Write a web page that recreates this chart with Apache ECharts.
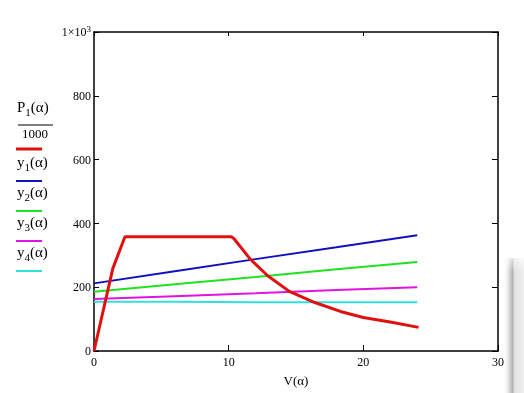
<!DOCTYPE html>
<html>
<head>
<meta charset="utf-8">
<script src="https://cdn.jsdelivr.net/npm/echarts@6/dist/echarts.min.js"></script>
<style>html,body{margin:0;padding:0;background:#fff}#c{width:524px;height:393px}</style>
</head>
<body>
<div id="c"></div>
<script>
// ---- data ----
var pX = [0, 1.4, 2.3, 10.2, 10.4, 11.6, 12.9, 14.5, 16.4, 18.3, 20.0, 22.1, 24.1];
var pY = [0, 259, 358, 358, 352, 288, 236, 187, 152, 124, 105, 90, 74];
var lineX = [0, 6, 12, 18, 24];
var y1 = [212, 250, 288, 325, 363];
var y2 = [186, 209, 232, 256, 279];
var y3 = [163, 172, 181, 191, 200];
var y4 = [154, 154, 153, 153, 153];
var xTicks = [0, 10, 20, 30];
var yTicks = [0, 200, 400, 600, 800, 1000];
var xTitle = 'V(α)';

function pairs(xs, ys){ return xs.map(function(x,i){ return [x, ys[i]]; }); }

var FONT = 'Liberation Serif';
var chart = echarts.init(document.getElementById('c'), null, {renderer:'canvas'});

var richLegend = {
  n:{fontFamily:FONT, fontSize:15, lineHeight:18, fill:'#000', verticalAlign:'top'},
  s:{fontFamily:FONT, fontSize:11, lineHeight:11, fill:'#000', verticalAlign:'bottom'}
};
function legendLabel(sub){
  return { type:'text', style:{ text:'{n|y}{s|' + sub + '}{n|(α)}', rich:richLegend } };
}

var legendColors = ['#1010c0', '#22e022', '#e014e0', '#30e0e0'];
var graphics = [];
// P1 label
graphics.push({type:'text', left:17, top:101, style:{ text:'{n|P}{s|1}{n|(α)}', rich:richLegend }});
graphics.push({type:'line', shape:{x1:18, y1:125, x2:53, y2:125}, style:{stroke:'#000', lineWidth:1}});
graphics.push({type:'text', left:22, top:128, style:{text:'1000', fontFamily:FONT, fontSize:13, fill:'#000'}});
graphics.push({type:'line', shape:{x1:16, y1:149, x2:42, y2:149}, style:{stroke:'#e01010', lineWidth:3}});
var legTops = [156, 186, 216, 246];
var lineYs = [181, 211, 241, 271];
for (var i=0;i<4;i++){
  var t = legendLabel(String(i+1));
  t.left = 17; t.top = legTops[i];
  graphics.push(t);
  graphics.push({type:'line', shape:{x1:16, y1:lineYs[i], x2:42, y2:lineYs[i]}, style:{stroke:legendColors[i], lineWidth:2}});
}
// window edge shadow
graphics.push({type:'rect', shape:{x:503, y:258, width:21, height:135}, silent:true, style:{
  fill:new echarts.graphic.LinearGradient(0,0,1,0,[
    {offset:0, color:'rgba(255,255,255,0)'},
    {offset:0.3, color:'rgba(200,200,200,0.7)'},
    {offset:0.45, color:'rgba(175,175,175,1)'},
    {offset:0.55, color:'rgba(225,225,225,1)'},
    {offset:1, color:'rgba(240,240,240,1)'}
  ])}, z:-1});
graphics.push({type:'rect', shape:{x:503, y:250, width:21, height:22}, silent:true, style:{
  fill:new echarts.graphic.LinearGradient(0,0,0,1,[
    {offset:0, color:'rgba(255,255,255,1)'},
    {offset:1, color:'rgba(255,255,255,0)'}
  ])}, z:0});

var axisLineStyle = {color:'#000', width:1.5};
var option = {
  animation:false,
  backgroundColor:'#fff',
  grid:{left:94, top:32, right:26, bottom:40, containLabel:false},
  xAxis:[{
    type:'value', min:xTicks[0], max:xTicks[xTicks.length-1], interval:10,
    name:xTitle, nameLocation:'middle', nameGap:24,
    nameTextStyle:{fontFamily:FONT, fontSize:13, color:'#000'},
    axisLine:{show:true, onZero:false, lineStyle:axisLineStyle},
    axisTick:{show:true, inside:true, length:6, lineStyle:{color:'#000', width:1}},
    axisLabel:{fontFamily:FONT, fontSize:12, color:'#000', margin:6, showMinLabel:true, showMaxLabel:true,
      formatter:function(v){return String(v);}},
    splitLine:{show:false}
  },{
    type:'value', position:'top', min:0, max:30, interval:10,
    axisLine:{show:true, onZero:false, lineStyle:axisLineStyle},
    axisTick:{show:true, inside:true, length:4, lineStyle:{color:'#000', width:1}},
    axisLabel:{show:false}, splitLine:{show:false}
  }],
  yAxis:[{
    type:'value', min:yTicks[0], max:yTicks[yTicks.length-1], interval:200,
    axisLine:{show:true, onZero:false, lineStyle:axisLineStyle},
    axisTick:{show:true, inside:true, length:5, lineStyle:{color:'#000', width:1}},
    axisLabel:{fontFamily:FONT, fontSize:12, color:'#000', margin:3,
      formatter:function(v){ return v===1000 ? '{m|1×10}{s|3}' : '{n|'+v+'}'; },
      rich:{
        n:{fontFamily:FONT, fontSize:12, lineHeight:14, color:'#000', verticalAlign:'bottom'},
        m:{fontFamily:FONT, fontSize:12, lineHeight:14, color:'#000', verticalAlign:'bottom', padding:[6,0,0,0]},
        s:{fontFamily:FONT, fontSize:9, lineHeight:10, color:'#000', verticalAlign:'top', padding:[0,0,4,0]}
      }},
    splitLine:{show:false}
  },{
    type:'value', position:'right', min:0, max:1000, interval:200,
    axisLine:{show:true, onZero:false, lineStyle:axisLineStyle},
    axisTick:{show:true, inside:true, length:6, lineStyle:{color:'#000', width:1}},
    axisLabel:{show:false}, splitLine:{show:false}
  }],
  graphic:graphics,
  series:[
    {type:'line', data:pairs(lineX, y4), showSymbol:false, lineStyle:{color:legendColors[3], width:2}, z:2},
    {type:'line', data:pairs(lineX, y3), showSymbol:false, lineStyle:{color:legendColors[2], width:2}, z:3},
    {type:'line', data:pairs(lineX, y2), showSymbol:false, lineStyle:{color:legendColors[1], width:2}, z:4},
    {type:'line', data:pairs(lineX, y1), showSymbol:false, lineStyle:{color:legendColors[0], width:2}, z:5},
    {type:'line', data:pairs(pX, pY), showSymbol:false, lineStyle:{color:'#e01010', width:3}, z:6}
  ]
};
chart.setOption(option);
</script>
</body>
</html>
